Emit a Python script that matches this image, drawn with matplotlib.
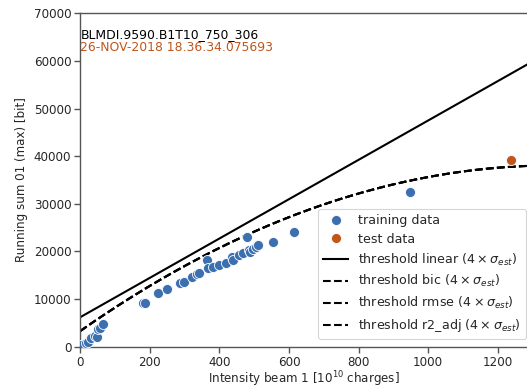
import numpy as np
import matplotlib
matplotlib.use("Agg")
import matplotlib.pyplot as plt
from matplotlib.lines import Line2D

# Training measurements: beam intensity [1e10 charges] vs running sum 01 (max) [bit]
train_x = [3, 16, 23, 30, 42, 47, 50, 57, 66,
           179, 185, 223, 250, 287, 297, 320, 335, 340,
           365, 368, 382, 400, 418, 435, 440, 457, 468,
           480, 484, 488, 497, 505, 512, 553, 614, 948]
train_y = [460, 780, 1050, 1760, 2250, 2100, 3650, 4000, 4700,
           9240, 9240, 11340, 12050, 13300, 13650, 14700, 15200, 15400,
           18100, 16460, 16750, 17160, 17600, 18800, 18300, 19250, 19600,
           22970, 20300, 19900, 20450, 20900, 21250, 22050, 24100, 32490]

# Test measurement
test_x = [1237]
test_y = [39200]

# Threshold models (4 sigma): linear, and quadratic fits (bic / rmse / r2_adj agree)
linear_coef = [6200.0, 41.3]                 # intercept, slope
quad_coef = [3300.0, 51.115, -0.018792]      # c0, c1, c2

label_name = "BLMDI.9590.B1T10_750_306"
label_date = "26-NOV-2018 18.36.34.075693"

blue = "#3b6faf"
orange = "#c0561a"
ink = "#262626"

plt.rcParams["font.family"] = ["DejaVu Sans"]
plt.rcParams["font.size"] = 8.6
plt.rcParams["text.color"] = ink
plt.rcParams["axes.labelcolor"] = ink
plt.rcParams["xtick.color"] = ink
plt.rcParams["ytick.color"] = ink

fig = plt.figure(figsize=(5.27, 3.91), dpi=100)
ax = fig.add_axes([80.3 / 527, (391 - 346.7) / 391, (527 - 80.3) / 527, 333.4 / 391])

xs = np.linspace(0, 1284, 300)
y_lin = linear_coef[0] + linear_coef[1] * xs
y_quad = quad_coef[0] + quad_coef[1] * xs + quad_coef[2] * xs ** 2

ax.scatter(train_x, train_y, s=52, color=blue, edgecolors="white", linewidths=0.6, zorder=3)
ax.scatter(test_x, test_y, s=52, color=orange, edgecolors="white", linewidths=0.6, zorder=3)
ax.plot(xs, y_lin, color="black", lw=1.5, zorder=2)
for _ in range(3):
    ax.plot(xs, y_quad, color="black", lw=1.5, ls=(0, (3.7, 1.6)), zorder=2)

ax.set_xlim(0, 1284)
ax.set_ylim(0, 70000)
ax.set_xticks([0, 200, 400, 600, 800, 1000, 1200])
ax.set_yticks(range(0, 70001, 10000))
ax.set_xlabel(r"Intensity beam 1 [$10^{10}$ charges]", labelpad=0.5)
ax.set_ylabel("Running sum 01 (max) [bit]", labelpad=4)

for s in ["left", "bottom", "top"]:
    ax.spines[s].set_color("#555555")
    ax.spines[s].set_linewidth(1.0)
ax.spines["right"].set_visible(False)
ax.tick_params(length=4, width=1.0, color="#555555", pad=2.5)

ax.text(0.002, 0.925, label_name, transform=ax.transAxes, fontsize=8.9,
        color="black", ha="left", va="baseline")
ax.text(0.0, 0.886, label_date, transform=ax.transAxes, fontsize=8.9,
        color=orange, ha="left", va="baseline")

sigma = r"($4\times\sigma_{est}$)"
handles = [
    Line2D([], [], ls="", marker="o", markersize=7.2, color=blue, markeredgecolor="white", markeredgewidth=0.6),
    Line2D([], [], ls="", marker="o", markersize=7.2, color=orange, markeredgecolor="white", markeredgewidth=0.6),
    Line2D([], [], color="black", lw=1.5),
    Line2D([], [], color="black", lw=1.5, ls=(0, (3.7, 1.6))),
    Line2D([], [], color="black", lw=1.5, ls=(0, (3.7, 1.6))),
    Line2D([], [], color="black", lw=1.5, ls=(0, (3.7, 1.6))),
]
labels = ["training data", "test data",
          "threshold linear " + sigma, "threshold bic " + sigma,
          "threshold rmse " + sigma, "threshold r2_adj " + sigma]
leg = ax.legend(handles, labels, loc="lower left",
                bbox_to_anchor=(318 / 527, (391 - 339) / 391),
                bbox_transform=fig.transFigure, borderaxespad=0,
                fontsize=9.1, frameon=True, framealpha=0.8, edgecolor="#cccccc",
                handlelength=2.0, labelspacing=0.45)
leg.get_frame().set_linewidth(0.8)

fig.savefig("out.png", dpi=100)
